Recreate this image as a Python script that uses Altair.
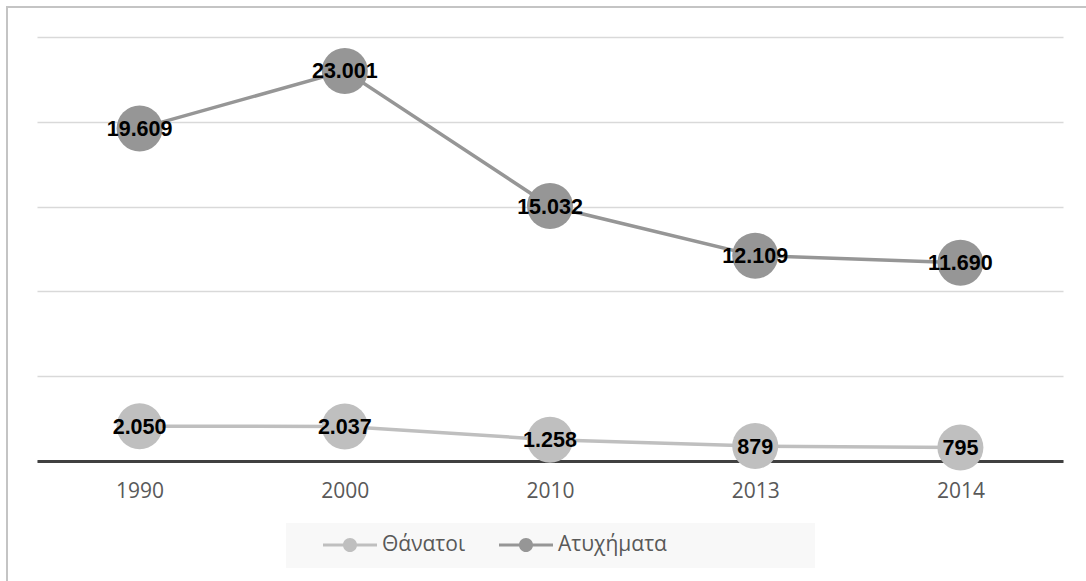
import altair as alt
import pandas as pd

# Road safety series: accidents and deaths per year
years = ["1990", "2000", "2010", "2013", "2014"]
accidents = [19609, 23001, 15032, 12109, 11690]
deaths = [2050, 2037, 1258, 879, 795]

series_names = ["Θάνατοι", "Ατυχήματα"]
series_colors = ["#bfbfbf", "#969696"]

rows = []
for y, v in zip(years, deaths):
    rows.append({"year": y, "series": "Θάνατοι", "value": v})
for y, v in zip(years, accidents):
    rows.append({"year": y, "series": "Ατυχήματα", "value": v})
df = pd.DataFrame(rows)

W, H = 1026, 424

x_enc = alt.X(
    "year:O",
    sort=years,
    scale=alt.Scale(padding=0.5),
    axis=alt.Axis(
        title=None,
        labelAngle=0,
        ticks=False,
        domainColor="#404040",
        domainWidth=3,
        labelFont="Open Sans",
        labelFontSize=21,
        labelColor="#595959",
        labelPadding=19,
        grid=False,
    ),
)
y_enc = alt.Y(
    "value:Q",
    scale=alt.Scale(domain=[0, 25000], nice=False),
    axis=alt.Axis(
        title=None,
        labels=False,
        ticks=False,
        domain=False,
        grid=True,
        gridColor="#d9d9d9",
        gridWidth=1.5,
        values=[0, 5000, 10000, 15000, 20000, 25000],
    ),
)

base = alt.Chart(df)

# one connecting line per series
line_layers = [
    base.transform_filter(alt.datum.series == name)
    .mark_line(strokeWidth=3.5, color=col)
    .encode(x=x_enc, y=y_enc)
    for name, col in zip(series_names, series_colors)
]

# legend symbol: a short line with a dot in the middle
sym_path = (
    "M-1,-0.055L-0.25,-0.055L-0.25,0.055L-1,0.055Z"
    "M0.25,-0.055L1,-0.055L1,0.055L0.25,0.055Z"
    "M-0.26,0A0.26,0.26 0 1,1 0.26,0A0.26,0.26 0 1,1 -0.26,0Z"
)

points = base.mark_point(filled=True, shape="circle", size=2116, opacity=1).encode(
    x=x_enc,
    y=y_enc,
    color=alt.Color(
        "series:N",
        sort=series_names,
        scale=alt.Scale(domain=series_names, range=series_colors),
        legend=alt.Legend(
            title=None,
            orient="none",
            direction="horizontal",
            legendX=286,
            legendY=481,
            symbolType=sym_path,
            symbolSize=2916,
            symbolStrokeWidth=0,
            symbolOpacity=1,
            labelFont="Open Sans",
            labelFontSize=21,
            labelColor="#595959",
            labelOffset=5,
            columnPadding=33,
            padding=0,
        ),
    ),
)

labels = base.transform_calculate(
    label="replace(format(datum.value, ','), ',', '.')"
).mark_text(
    font="Liberation Sans",
    fontWeight="bold",
    fontSize=21.5,
    color="black",
    baseline="middle",
    align="center",
    dy=1.5,
).encode(x=x_enc, y=y_enc, text="label:N")

one = alt.Chart(pd.DataFrame({"k": [0]}))

legend_box = one.mark_rect(fill="#f8f8f8").encode(
    x=alt.value(249), x2=alt.value(778), y=alt.value(486), y2=alt.value(531)
)

frame = one.mark_rect(fill=None, stroke="#c4c4c4", strokeWidth=2).encode(
    x=alt.value(-30), x2=alt.value(1100), y=alt.value(-30), y2=alt.value(600)
)

chart = (
    alt.layer(frame, legend_box, *line_layers, points, labels)
    .properties(
        width=W,
        height=H,
        padding={"left": 37, "top": 37, "right": 23, "bottom": 120},
        autosize=alt.AutoSizeParams(type="none"),
        background="white",
    )
    .configure_view(stroke=None)
)

chart.save("out.html", embed_options={"renderer": "svg", "actions": False})
